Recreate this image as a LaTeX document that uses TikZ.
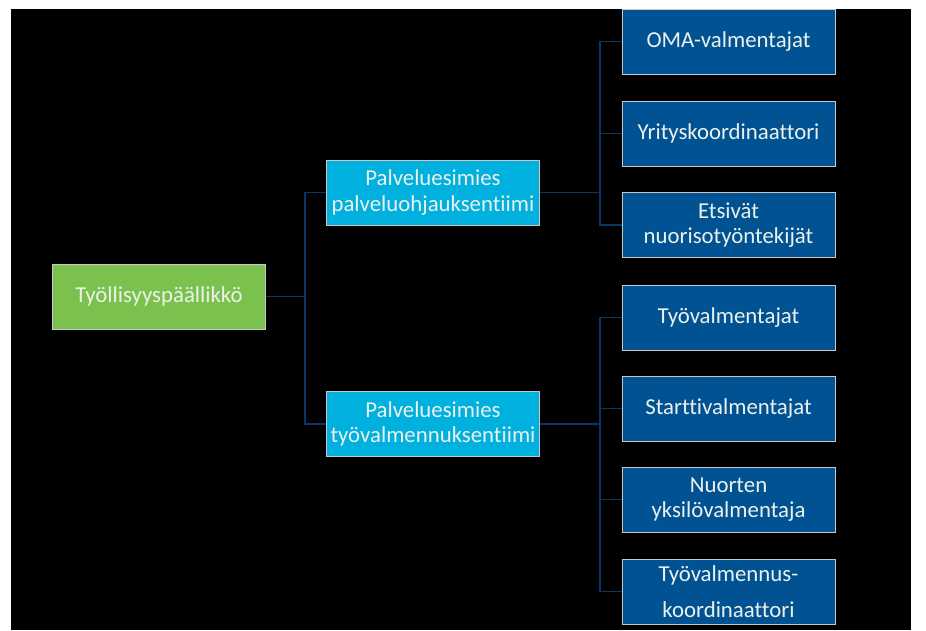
\documentclass[tikz,border=0pt]{standalone}
\usepackage{fontspec}
\setmainfont{Carlito}[Ligatures={NoCommon,NoRare,NoContextual}]
\definecolor{paavihrea}{RGB}{122,193,78}
\definecolor{tiimisin}{RGB}{0,176,222}
\definecolor{tummasin}{RGB}{0,82,147}
\definecolor{viiva}{RGB}{12,52,100}
\definecolor{teksti}{RGB}{236,241,236}
\tikzset{
  laatikko/.style={draw=black!22,line width=0.9pt,text=teksti,align=center,
    minimum width=213pt,minimum height=65pt,inner sep=0pt,
    font=\fontsize{22.8}{25.5}\selectfont},
  johtaja/.style={laatikko,fill=paavihrea},
  tiimi/.style={laatikko,fill=tiimisin},
  tiimilainen/.style={laatikko,fill=tummasin},
  yhteys/.style={draw=viiva,line width=1.8pt}
}
\begin{document}
\begin{tikzpicture}[x=1pt,y=-1pt]

\fill[white] (0,0) rectangle (926,630);
\fill[black] (11,9) rectangle (911,630);
\useasboundingbox (0,0) rectangle (926,630);

\node[johtaja] (paallikko) at (159,296.5) {Työllisyyspäällikkö};

\node[tiimi] (ohjaus) at (433,192.5) {Palveluesimies\\palveluohjauksentiimi};
\node[tiimi] (valmennus) at (433,424) {Palveluesimies\\työvalmennuksentiimi};

\node[tiimilainen] (oma) at (728.5,41.5) {OMA-valmentajat};
\node[tiimilainen] (yritys) at (728.5,133.5) {Yrityskoordinaattori};
\node[tiimilainen] (etsivat) at (728.5,225) {Etsivät\\nuorisotyöntekijät};

\node[tiimilainen] (tyovalm) at (728.5,317.5) {Työvalmentajat};
\node[tiimilainen] (startti) at (728.5,408.5) {Starttivalmentajat};
\node[tiimilainen] (nuorten) at (728.5,499.5) {Nuorten\\yksilövalmentaja};
\node[tiimilainen] (koord) at (728.5,591.5) {Työvalmennus-\\[11pt]koordinaattori};

\coordinate (haara1) at (305,296.5);
\coordinate (haara2) at (600,192.5);
\coordinate (haara3) at (600,424);

\draw[yhteys] (paallikko.east) -- (haara1);
\draw[yhteys] (haara1) |- (ohjaus.west);
\draw[yhteys] (haara1) |- (valmennus.west);

\draw[yhteys] (ohjaus.east) -- (haara2);
\draw[yhteys] (haara2) |- (oma.west);
\draw[yhteys] (haara2) |- (yritys.west);
\draw[yhteys] (haara2) |- (etsivat.west);

\draw[yhteys] (valmennus.east) -- (haara3);
\draw[yhteys] (haara3) |- (tyovalm.west);
\draw[yhteys] (haara3) |- (startti.west);
\draw[yhteys] (haara3) |- (nuorten.west);
\draw[yhteys] (haara3) |- (koord.west);
\end{tikzpicture}
\end{document}
